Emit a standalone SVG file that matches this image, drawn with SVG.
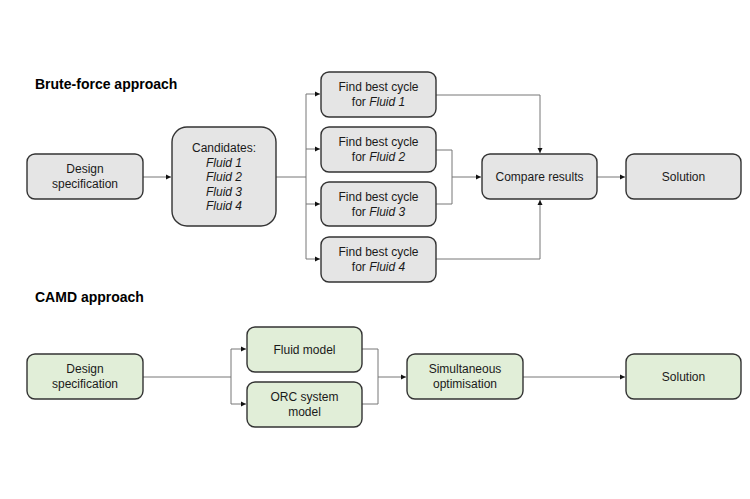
<svg xmlns="http://www.w3.org/2000/svg" width="750" height="499" viewBox="0 0 750 499">
<defs>
<marker id="ah" markerWidth="6" markerHeight="6" refX="5" refY="3" orient="auto" markerUnits="userSpaceOnUse">
<path d="M0,0.5 L5,3 L0,5.5 Z" fill="#111"/>
</marker>
<style>
.t{font-family:"Liberation Sans",Arial,sans-serif;font-size:12px;fill:#1a1a1a;text-anchor:middle}
.h{font-family:"Liberation Sans",Arial,sans-serif;font-size:14px;font-weight:bold;fill:#000}
.g rect{fill:#e5e5e5;stroke:#333;stroke-width:1.4}
.gr rect{fill:#e1eed8;stroke:#333;stroke-width:1.4}
.c path{fill:none;stroke:#777;stroke-width:1}
.a{marker-end:url(#ah)}
</style>
</defs>
<rect width="750" height="499" fill="#fff"/>
<text class="h" x="35" y="89">Brute-force approach</text>
<text class="h" x="35" y="302">CAMD approach</text>

<g class="c">
<path class="a" d="M143,177 H171"/>
<path d="M276,177 H306 M306,94 V259"/>
<path class="a" d="M306,94 H320"/>
<path class="a" d="M306,149 H320"/>
<path class="a" d="M306,204 H320"/>
<path class="a" d="M306,259 H320"/>
<path class="a" d="M436,95 H540 V153"/>
<path class="a" d="M436,259 H540 V200"/>
<path d="M436,150 H452 V204 H436"/>
<path class="a" d="M452,177 H481"/>
<path class="a" d="M597,177 H625"/>
<path d="M143,377 H231 M231,349 V404"/>
<path class="a" d="M231,349 H246"/>
<path class="a" d="M231,404 H246"/>
<path d="M362,349 H378 V404 H362"/>
<path class="a" d="M378,377 H406"/>
<path class="a" d="M523,377 H625"/>
</g>

<g id="design1" class="g"><rect x="27" y="154" width="116" height="45" rx="8"/>
<text class="t" x="85" y="173">Design</text><text class="t" x="85" y="188">specification</text></g>

<g id="candidates" class="g"><rect x="172" y="127" width="104" height="99" rx="15"/>
<text class="t" x="224" y="152">Candidates:</text>
<text class="t" x="224" y="166.5" font-style="italic">Fluid 1</text>
<text class="t" x="224" y="181" font-style="italic">Fluid 2</text>
<text class="t" x="224" y="195.5" font-style="italic">Fluid 3</text>
<text class="t" x="224" y="210" font-style="italic">Fluid 4</text></g>

<g id="find1" class="g"><rect x="321" y="72" width="115" height="45" rx="8"/>
<text class="t" x="378.5" y="91">Find best cycle</text><text class="t" x="378.5" y="106">for <tspan font-style="italic">Fluid 1</tspan></text></g>
<g id="find2" class="g"><rect x="321" y="127" width="115" height="45" rx="8"/>
<text class="t" x="378.5" y="146">Find best cycle</text><text class="t" x="378.5" y="161">for <tspan font-style="italic">Fluid 2</tspan></text></g>
<g id="find3" class="g"><rect x="321" y="182" width="115" height="44" rx="8"/>
<text class="t" x="378.5" y="200.5">Find best cycle</text><text class="t" x="378.5" y="215.5">for <tspan font-style="italic">Fluid 3</tspan></text></g>
<g id="find4" class="g"><rect x="321" y="237" width="115" height="45" rx="8"/>
<text class="t" x="378.5" y="256">Find best cycle</text><text class="t" x="378.5" y="271">for <tspan font-style="italic">Fluid 4</tspan></text></g>

<g id="compare" class="g"><rect x="482" y="154" width="115" height="45" rx="8"/>
<text class="t" x="539.5" y="181">Compare results</text></g>
<g id="solution1" class="g"><rect x="626" y="154" width="115" height="45" rx="8"/>
<text class="t" x="683.5" y="181">Solution</text></g>

<g id="design2" class="gr"><rect x="27" y="354" width="116" height="45" rx="8"/>
<text class="t" x="85" y="373">Design</text><text class="t" x="85" y="388">specification</text></g>
<g id="fluidmodel" class="gr"><rect x="247" y="327" width="115" height="45" rx="8"/>
<text class="t" x="304.5" y="353.5">Fluid model</text></g>
<g id="orc" class="gr"><rect x="247" y="382" width="115" height="45" rx="8"/>
<text class="t" x="304.5" y="401">ORC system</text><text class="t" x="304.5" y="416">model</text></g>
<g id="simopt" class="gr"><rect x="407" y="354" width="116" height="45" rx="8"/>
<text class="t" x="465" y="373">Simultaneous</text><text class="t" x="465" y="388">optimisation</text></g>
<g id="solution2" class="gr"><rect x="626" y="354" width="115" height="45" rx="8"/>
<text class="t" x="683.5" y="381">Solution</text></g>
</svg>
